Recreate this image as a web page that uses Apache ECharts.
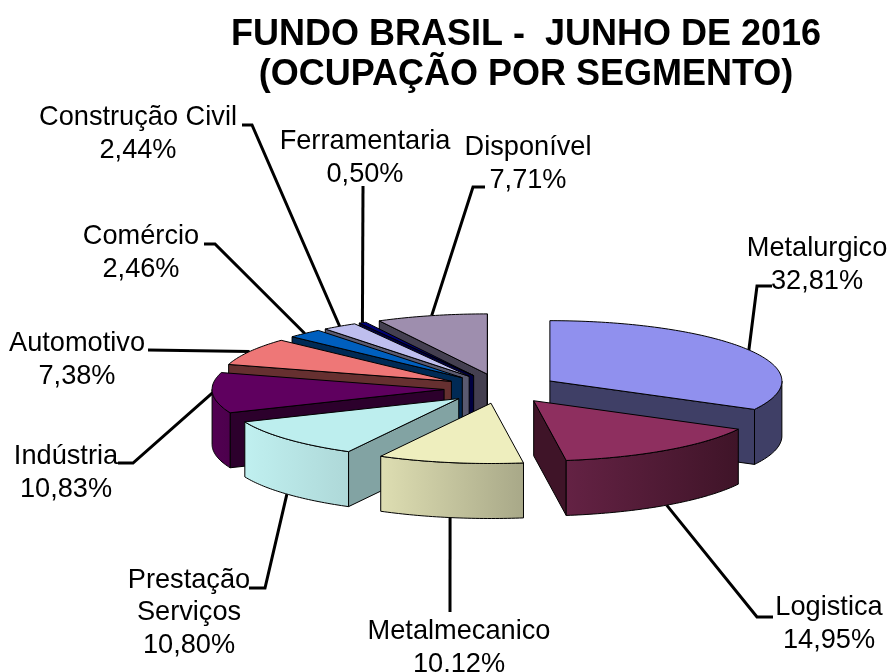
<!DOCTYPE html>
<html>
<head>
<meta charset="utf-8">
<title>Fundo Brasil</title>
<script src="https://cdn.jsdelivr.net/npm/echarts@6/dist/echarts.min.js"></script>
<style>
html, body { margin: 0; padding: 0; background: #fff; }
#chart { width: 890px; height: 672px; }
</style>
</head>
<body>
<div id="chart"></div>
<script>
const categories = ['Metalurgico', 'Logistica', 'Metalmecanico', 'Prestação\nServiços', 'Indústria',
    'Automotivo', 'Comércio', 'Construção Civil', 'Ferramentaria', 'Disponível'];
const values = [32.81, 14.95, 10.12, 10.80, 10.83, 7.38, 2.46, 2.44, 0.50, 7.71];

const topColors = ['#9090ee', '#8e2f5f', '#eeeebe', '#bdeeee', '#5f005f', '#ee7777', '#005fbe', '#bebeee', '#000077', '#9e8eae'];
const cutColors = ['#3f3f66', '#3f1428', '#a8a888', '#82a3a3', '#2c002c', '#663030', '#002a55', '#5a5a70', '#000040', '#443f50'];
const rimLeft = ['#3f3f66', '#642244', '#dedeb2', '#c0f0f0', '#520052', '#663030', '#002a55', '#5a5a70', '#000040', '#443f50'];
const rimRight = ['#3f3f66', '#3f1428', '#a8a888', '#aed8d8', '#4c004c', '#663030', '#002a55', '#5a5a70', '#000040', '#443f50'];

// back slices first, front slices paint over them
const drawOrder = [0, 9, 8, 7, 6, 5, 4, 3, 1, 2];

// pie geometry
const CX = 501, CY = 388.6, RADIUS = 232, TILT = 0.26, EXPLODE = 57, DEPTH = 55;

// label placement: [label centre x, label centre y, elbow x, elbow y, end x, end y]
const labelLayout = [
    [817, 265, 757, 286, 772, 286],
    [829, 624, 757, 617, 773, 617],
    [459, 648, 450, 612, 450, 612],
    [189, 613, 265, 588, 249, 588],
    [66, 473, 133, 463, 118, 463],
    [77, 360, 148, 350, 148, 350],
    [141, 253, 215, 244, 204, 244],
    [138, 134, 252, 125, 242, 125],
    [365, 158, 363, 186, 363, 186],
    [528, 164, 473, 187, 485, 187]
];

const FONT = '"Liberation Sans", Arial, sans-serif';
const rad = (deg) => deg * Math.PI / 180;

// start / end angle of every slice, clockwise from 12 o'clock
const total = values.reduce((a, b) => a + b, 0);
let acc = 0;
const angles = values.map((v) => {
    const start = acc;
    acc += v / total * 360;
    return [start, acc];
});

const apexOf = (i) => {
    const mid = rad((angles[i][0] + angles[i][1]) / 2);
    return [CX + EXPLODE * Math.sin(mid), CY - EXPLODE * TILT * Math.cos(mid)];
};
const rimPoint = (apex, deg, down) => [
    apex[0] + RADIUS * Math.sin(rad(deg)),
    apex[1] - RADIUS * TILT * Math.cos(rad(deg)) + (down || 0)
];
const arcPoints = (apex, from, to, down) => {
    const pts = [];
    const steps = Math.max(2, Math.ceil(Math.abs(to - from)));
    for (let s = 0; s <= steps; s++) {
        pts.push(rimPoint(apex, from + (to - from) * s / steps, down));
    }
    return pts;
};
const face = (points, fill) => ({
    type: 'polygon',
    shape: { points: points },
    style: { fill: fill, stroke: '#000', lineWidth: 1, lineJoin: 'round' }
});

function renderSlice(params, api) {
    const i = api.value(0);
    const [a0, a1] = angles[i];
    const apex = apexOf(i);
    const children = [];

    // cut faces turned towards the viewer
    [[a0, Math.sin(rad(a0)) < 0], [a1, Math.sin(rad(a1)) > 0]].forEach(([deg, visible]) => {
        if (!visible) return;
        const p = rimPoint(apex, deg);
        children.push(face([apex, p, [p[0], p[1] + DEPTH], [apex[0], apex[1] + DEPTH]], cutColors[i]));
    });

    // outer wall, only the part between 90 and 270 degrees shows
    const r0 = Math.max(a0, 90), r1 = Math.min(a1, 270);
    if (r1 > r0) {
        const rim = arcPoints(apex, r0, r1, 0).concat(arcPoints(apex, r1, r0, DEPTH));
        children.push(face(rim, new echarts.graphic.LinearGradient(0, 0, 1, 0, [
            { offset: 0, color: rimLeft[i] },
            { offset: 1, color: rimRight[i] }
        ])));
    }

    // top face
    children.push(face([apex].concat(arcPoints(apex, a0, a1, 0)), topColors[i]));
    return { type: 'group', children: children };
}

function renderLabel(params, api) {
    const i = api.value(0);
    const mid = (angles[i][0] + angles[i][1]) / 2;
    const front = Math.cos(rad(mid)) < -0.3;
    const from = rimPoint(apexOf(i), mid, front ? DEPTH : 0);
    const l = labelLayout[i];
    return {
        type: 'group',
        children: [{
            type: 'polyline',
            shape: { points: [from, [l[2], l[3]], [l[4], l[5]]] },
            style: { fill: null, stroke: '#000', lineWidth: 3 }
        }, {
            type: 'text',
            x: l[0],
            y: l[1],
            style: {
                text: categories[i] + '\n' + values[i].toFixed(2).replace('.', ',') + '%',
                font: '27.2px ' + FONT,
                lineHeight: 32.5,
                fill: '#000',
                align: 'center',
                verticalAlign: 'middle'
            }
        }]
    };
}

const chart = echarts.init(document.getElementById('chart'), null, { renderer: 'canvas' });
chart.setOption({
    animation: false,
    backgroundColor: '#fff',
    title: {
        text: 'FUNDO BRASIL -  JUNHO DE 2016\n(OCUPAÇÃO POR SEGMENTO)',
        left: 521,
        top: 10,
        textAlign: 'center',
        textStyle: { fontFamily: FONT, fontWeight: 'bold', fontSize: 36, lineHeight: 40, color: '#000' }
    },
    series: [{
        type: 'custom',
        coordinateSystem: 'none',
        silent: true,
        z: 1,
        renderItem: renderLabel,
        data: categories.map((c, i) => [i])
    }, {
        type: 'custom',
        coordinateSystem: 'none',
        silent: true,
        z: 2,
        renderItem: renderSlice,
        data: drawOrder.map((i) => [i])
    }]
});
</script>
</body>
</html>
